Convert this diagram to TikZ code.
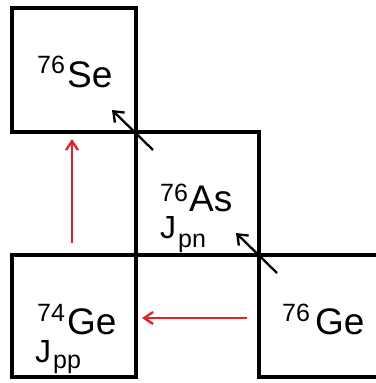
\documentclass[tikz,border=0pt]{standalone}
\usepackage{fontspec}
\setmainfont{Liberation Sans}
\usetikzlibrary{arrows.meta}
\definecolor{arrred}{RGB}{232,30,40}
\tikzset{
  cell/.style={line width=3.4pt, draw=black},
  big/.style={inner sep=0pt, anchor=base west, font=\fontsize{37}{40}\selectfont},
  jbig/.style={inner sep=0pt, anchor=base west, font=\fontsize{32}{34}\selectfont},
  small/.style={inner sep=0pt, anchor=base west, font=\fontsize{25}{27}\selectfont},
  blackarrow/.style={line width=2.3pt, draw=black, -{Straight Barb[length=9pt,width=14pt,line width=2.3pt]}},
  redarrow/.style={line width=2.3pt, draw=arrred, -{Straight Barb[length=9pt,width=12pt,line width=2.3pt]}}
}
\begin{document}
\begin{tikzpicture}[x=1pt,y=-1pt]
\useasboundingbox (0,0) rectangle (375,383);
% boxes
\draw[cell] (12,8) rectangle (136,132);
\draw[cell] (136,132) rectangle (259,255);
\draw[cell] (12,255) rectangle (136,377);
\draw[cell] (378,255) -- (259,255) -- (259,377) -- (378,377);
% Se
\node[small] (seA) at (37,73) {76};
\node[big] (seS) at (67,87) {Se};
% As
\node[small] (asA) at (160,201) {76};
\node[big] (asS) at (189,211) {As};
\node[jbig] (asJ) at (160,238) {J};
\node[small] (asJs) at (178,247) {pn};
% Ge74
\node[small] (g4A) at (37,321) {74};
\node[big] (g4S) at (67,334) {Ge};
\node[jbig] (g4J) at (35,362) {J};
\node[small] (g4Js) at (53,368) {pp};
% Ge76
\node[small] (g6A) at (282,321) {76};
\node[big] (g6S) at (315,334) {Ge};
% arrows
\coordinate (a1s) at (153,150);
\coordinate (a1e) at (112,110);
\coordinate (a2s) at (277,273);
\coordinate (a2e) at (236,233);
\coordinate (r1s) at (72,243);
\coordinate (r1e) at (72,139);
\coordinate (r2s) at (247,318);
\coordinate (r2e) at (142,318);
\draw[blackarrow] (a1s) -- (a1e);
\draw[blackarrow] (a2s) -- (a2e);
\draw[redarrow] (r1s) -- (r1e);
\draw[redarrow] (r2s) -- (r2e);
\end{tikzpicture}
\end{document}
